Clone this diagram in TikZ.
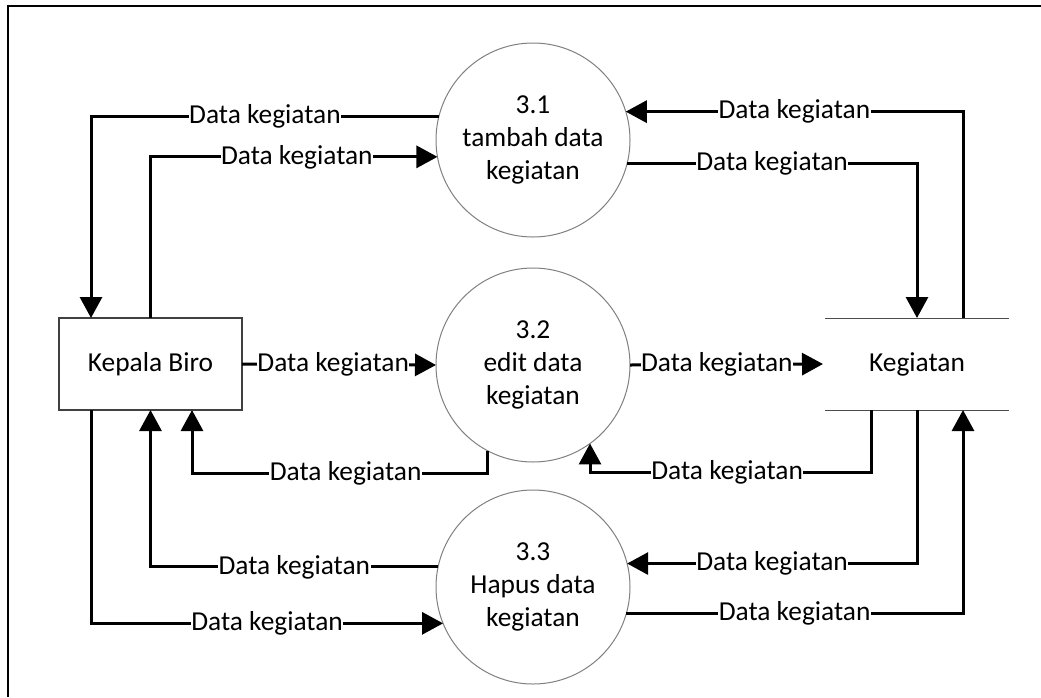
\documentclass[tikz,border=0pt]{standalone}
\usepackage{fontspec}
\setmainfont{Carlito}
\usetikzlibrary{positioning,arrows.meta}
\tikzset{>=Stealth}
\newcommand{\dfdfont}{\fontsize{27.4}{33}\selectfont}
\tikzset{
  proses/.style={circle, draw=black!50, line width=1pt, minimum size=194pt, inner sep=0pt, outer sep=0pt, align=center, font=\dfdfont},
  entitas/.style={rectangle, draw=black!75, line width=1.2pt, minimum width=183pt, minimum height=92pt, outer sep=0pt, font=\dfdfont},
  simpan/.style={minimum width=184pt, minimum height=92pt, outer sep=0pt, font=\dfdfont},
  garis/.style={line width=1pt, black!70},
  alir/.style={line width=3pt, -{Triangle[length=21pt,width=22pt]}},
  lbl/.style={fill=white, inner sep=0.5pt, font=\dfdfont},
}

\begin{document}
\begin{tikzpicture}[x=1pt,y=-1pt]
            \useasboundingbox (0,0) rectangle (1041,697);
            % Frame
            \draw[line width=2pt] (8,697) -- (8,6) -- (1041,6);

            % Processes
            \node[proses] (p31) at (533,140) {3.1\\tambah data\\kegiatan};
            \node[proses] (p32) at (533,365) {3.2\\edit data\\kegiatan};
            \node[proses] (p33) at (533,587) {3.3\\Hapus data\\kegiatan};

            % Entity and data store
            \node[entitas] (kabiro) at (150.5,364) {Kepala Biro};
            \node[simpan] (kegiatan) at (917,364) {Kegiatan};
            \draw[garis] (kegiatan.north west) -- (kegiatan.north east);
            \draw[garis] (kegiatan.south west) -- (kegiatan.south east);

            % Flows of 3.1
            \draw[alir] (p31.166) -| node[lbl,pos=0.25] (l1) {Data kegiatan} ([xshift=32pt]kabiro.north west);
            \draw[alir] (kabiro.north) |- node[lbl,pos=0.755] (l2) {Data kegiatan} (p31.190);
            \draw[alir] ([xshift=46pt]kegiatan.north) |- node[lbl,pos=0.75] (l3) {Data kegiatan} (p31.17);
            \draw[alir] (p31.346) -| node[lbl,pos=0.25] (l4) {Data kegiatan} (kegiatan.north);

            % Flows of 3.2
            \draw[alir] (kabiro.east) -- node[lbl,pos=0.47] (l5) {Data kegiatan} (p32.west);
            \draw[alir] (p32.east) -- node[lbl,pos=0.45] (l6) {Data kegiatan} ([xshift=-2pt]kegiatan.west);
            \draw[alir] (p32.242) -- ++(0,23) -| node[lbl,pos=0.24] (l7) {Data kegiatan} ([xshift=41.5pt]kabiro.south);
            \draw[alir] ([xshift=-46pt]kegiatan.south) -- ++(0,62) -| node[lbl,pos=0.256] (l8) {Data kegiatan} (p32.306);

            % Flows of 3.3
            \draw[alir] (p33.168) -| node[lbl,pos=0.25] (l9) {Data kegiatan} (kabiro.south);
            \draw[alir] ([xshift=32pt]kabiro.south west) |- node[lbl,pos=0.75] (l10) {Data kegiatan} (p33.202);
            \draw[alir] (kegiatan.south) |- node[lbl,pos=0.75] (l11) {Data kegiatan} (p33.14);
            \draw[alir] (p33.344) -| node[lbl,pos=0.25] (l12) {Data kegiatan} ([xshift=46pt]kegiatan.south);

        \end{tikzpicture}
\end{document}
